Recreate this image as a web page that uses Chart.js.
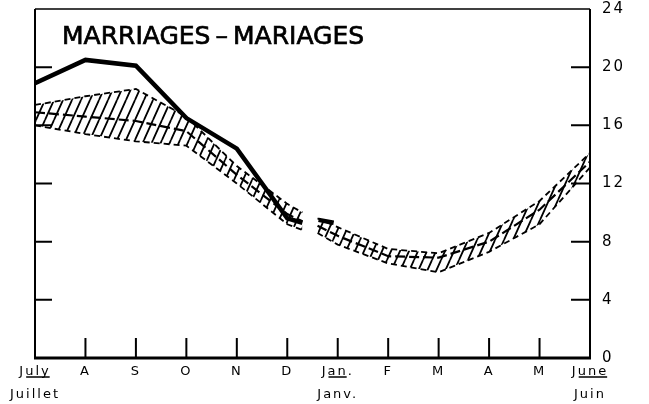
<!DOCTYPE html>
<html>
<head>
<meta charset="utf-8">
<script src="https://cdn.jsdelivr.net/npm/chart.js@4.4.1/dist/chart.umd.min.js"></script>
<style>
  body { margin: 0; background: #fff; }
  #wrap { width: 649px; height: 404px; }
</style>
</head>
<body>
<div id="wrap"><canvas id="chart" width="649" height="404"></canvas></div>
<script>
// month ticks, July .. June
const monthLabels = [['July', 'Juillet'], 'A', 'S', 'O', 'N', 'D', ['Jan.', 'Janv.'], 'F', 'M', 'A', 'M', ['June', 'Juin']];
const yTicks = [0, 4, 8, 12, 16, 20, 24];

// band (hatched range) - x is month position, null = break around new year
const bandX = [0, 1, 2, 3, 4, 5, 5.3, 5.45, 5.6, 6, 7, 8, 9, 10, 11];
const upperY = [17.4, 18.0, 18.5, 16.6, 13.2, 10.6, 10.0, null, 9.6, 9.0, 7.5, 7.2, 8.6, 10.8, 14.1];
const lowerY = [16.0, 15.4, 14.9, 14.6, 12.0, 9.2, 8.8, null, 8.6, 7.8, 6.5, 5.9, 7.3, 9.2, 13.1];
const middleY = [16.9, 16.6, 16.3, 15.6, 12.6, 9.9, 9.4, null, 9.1, 8.4, 7.0, 6.9, 8.0, 10.2, 13.5];

// observed series (solid heavy line)
const actualX = [0, 1, 2, 3, 4, 5, 5.3, 5.45, 5.62, 5.92];
const actualY = [18.9, 20.5, 20.1, 16.5, 14.4, 9.6, 9.3, null, 9.5, 9.3];

const title = 'MARRIAGES\u2009\u2013\u2009MARIAGES';

function pts(xs, ys) {
    return xs.map((x, i) => ({ x: x, y: ys[i] }));
}

// steep diagonal hatch pattern
function makeHatch() {
    const w = 9, h = 20;
    const c = document.createElement('canvas');
    c.width = w;
    c.height = h;
    const g = c.getContext('2d');
    g.strokeStyle = '#000';
    g.lineWidth = 1.8;
    g.beginPath();
    for (let k = -1; k <= 1; k++) {
        g.moveTo(k * w, h); g.lineTo(k * w + w, 0);
    }
    g.stroke();
    return g.createPattern(c, 'repeat');
}

const frame = {
    id: 'frame',
    beforeDraw(chart) {
        chart.ctx.letterSpacing = '2px';
    },
    afterDraw(chart) {
        const ctx = chart.ctx;
        const a = chart.chartArea;
        const xs = chart.scales.x;
        const ys = chart.scales.y;
        ctx.save();
        ctx.strokeStyle = '#000';
        ctx.lineCap = 'butt';
        // box
        ctx.lineWidth = 1.5;
        ctx.beginPath();
        ctx.moveTo(a.left, a.top); ctx.lineTo(a.right, a.top);
        ctx.stroke();
        ctx.lineWidth = 2;
        ctx.beginPath();
        ctx.moveTo(a.left, a.top); ctx.lineTo(a.left, a.bottom);
        ctx.moveTo(a.right, a.top); ctx.lineTo(a.right, a.bottom);
        ctx.stroke();
        ctx.lineWidth = 3;
        ctx.beginPath();
        ctx.moveTo(a.left - 1, a.bottom); ctx.lineTo(a.right + 1, a.bottom);
        ctx.stroke();
        // inward ticks
        ctx.lineWidth = 2;
        ctx.beginPath();
        for (let i = 1; i < monthLabels.length - 1; i++) {
            const px = xs.getPixelForValue(i);
            ctx.moveTo(px, a.bottom); ctx.lineTo(px, a.bottom - 20);
        }
        yTicks.slice(1, -1).forEach(v => {
            const py = ys.getPixelForValue(v);
            ctx.moveTo(a.left, py); ctx.lineTo(a.left + 17, py);
            ctx.moveTo(a.right, py); ctx.lineTo(a.right - 19, py);
        });
        ctx.stroke();
        // title
        ctx.fillStyle = '#000';
        ctx.font = '25px "DejaVu Sans"';
        ctx.letterSpacing = '0px';
        ctx.textBaseline = 'middle';
        ctx.lineWidth = 0.7;
        ctx.fillText(title, a.left + 27, a.top + 28);
        ctx.strokeText(title, a.left + 27, a.top + 28);
        // underline abbreviations (first line of two-line labels)
        ctx.font = '13px "DejaVu Sans"';
        ctx.letterSpacing = '2px';
        ctx.lineWidth = 1.5;
        ctx.beginPath();
        monthLabels.forEach((lab, i) => {
            if (!Array.isArray(lab)) return;
            const word = lab[0].replace('.', '');
            const full = ctx.measureText(lab[0]).width;
            const first = ctx.measureText(word[0]).width;
            const rest = ctx.measureText(word).width - 2;
            const cx = xs.getPixelForValue(i);
            const x0 = cx - full / 2 + 1;
            ctx.moveTo(x0 + first, a.bottom + 19);
            ctx.lineTo(x0 + rest, a.bottom + 19);
        });
        ctx.stroke();
        ctx.restore();
        ctx.letterSpacing = '0px';
    }
};

const hatch = makeHatch();

new Chart(document.getElementById('chart'), {
    type: 'line',
    data: {
        datasets: [
            {
                label: 'Actual',
                data: pts(actualX, actualY),
                borderColor: '#000',
                borderWidth: 4.5,
                pointRadius: 0,
                fill: false
            },
            {
                label: 'Upper',
                data: pts(bandX, upperY),
                borderColor: '#000',
                borderWidth: 1.8,
                borderDash: [6, 4],
                pointRadius: 0,
                fill: false
            },
            {
                label: 'Lower',
                data: pts(bandX, lowerY),
                borderColor: '#000',
                borderWidth: 1.8,
                borderDash: [6, 4],
                pointRadius: 0,
                backgroundColor: hatch,
                fill: '-1'
            },
            {
                label: 'Expected',
                data: pts(bandX, middleY),
                borderColor: '#000',
                borderWidth: 2.2,
                borderDash: [10, 4],
                pointRadius: 0,
                fill: false
            }
        ]
    },
    options: {
        responsive: false,
        animation: false,
        spanGaps: false,
        layout: {
            padding: { left: 35, top: 9, right: 0, bottom: 0 }
        },
        plugins: {
            legend: { display: false },
            tooltip: { enabled: false }
        },
        scales: {
            x: {
                type: 'linear',
                min: 0,
                max: 11,
                grid: { display: false, drawTicks: false },
                border: { display: false },
                afterFit: (s) => { s.height = 46; s.paddingLeft = 0; s.paddingRight = 0; },
                afterBuildTicks: (s) => { s.ticks = monthLabels.map((_, i) => ({ value: i })); },
                ticks: {
                    autoSkip: false,
                    maxRotation: 0,
                    padding: 2,
                    color: '#000',
                    font: { family: 'DejaVu Sans', size: 13, lineHeight: 1.8 },
                    callback: (v) => monthLabels[v]
                }
            },
            y: {
                position: 'right',
                min: 0,
                max: 24,
                grid: { display: false, drawTicks: false },
                border: { display: false },
                afterFit: (s) => { s.width = 59; s.paddingTop = 0; s.paddingBottom = 0; },
                ticks: {
                    stepSize: 4,
                    padding: 12,
                    color: '#000',
                    font: { family: 'DejaVu Sans', size: 15 }
                }
            }
        }
    },
    plugins: [frame]
});
</script>
</body>
</html>
